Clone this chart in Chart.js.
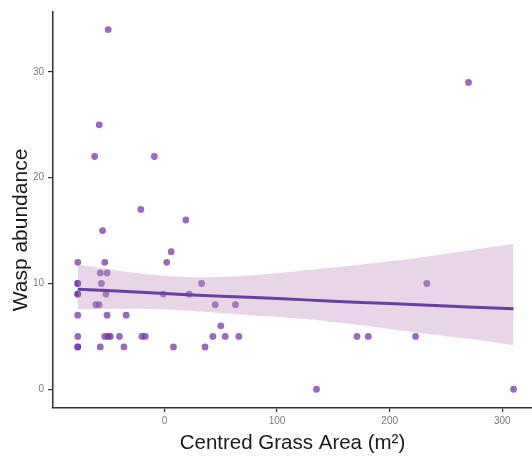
<!DOCTYPE html>
<html>
<head>
<meta charset="utf-8">
<script src="https://cdn.jsdelivr.net/npm/chart.js@4.4.1/dist/chart.umd.min.js"></script>
<style>
  html, body { margin: 0; padding: 0; background: #ffffff; }
  #wrap { width: 532px; height: 457px; }
</style>
</head>
<body>
<div id="wrap"><canvas id="c" width="532" height="457"></canvas></div>
<script>
// Observed data: centred grass area (m^2) vs wasp abundance
const grassArea = [-50, -58, -62, -9, -21, -55, 19, 270, 6, 2, -77, -53, -57, -51, -77, -77, -56, 33, 233,
  -77, -77, -52, -1, 22, -61, -58, 45, 63, -77, -51, -34, 50, -77, -53, -50, -48, -40, -20, -17, 43, 54, 66,
  171, 181, 223, -77, -77, -57, -36, 8, 36, 135, 310];
const waspAbundance = [34, 25, 22, 22, 17, 15, 16, 29, 13, 12, 12, 12, 11, 11, 10, 10, 10, 10, 10,
  9, 9, 9, 9, 9, 8, 8, 8, 8, 7, 7, 7, 6, 5, 5, 5, 5, 5, 5, 5, 5, 5, 5,
  5, 5, 5, 4, 4, 4, 4, 4, 4, 0, 0];

// Fitted trend and confidence band
const fitX = [-77, -25, 25, 75, 125, 175, 225, 275, 310];
const fitY = [9.45, 9.2, 8.9, 8.7, 8.45, 8.2, 8.0, 7.75, 7.6];
const upperY = [11.8, 11.0, 10.6, 10.75, 11.25, 11.8, 12.4, 13.2, 13.76];
const lowerY = [7.55, 7.6, 7.4, 7.0, 6.65, 6.05, 5.35, 4.7, 4.16];

// Axis ticks
const xTicks = [0, 100, 200, 300];
const yTicks = [0, 10, 20, 30];

const pair = (xs, ys) => xs.map((x, i) => ({ x: x, y: ys[i] }));
const FONT = '"Liberation Sans", Arial, Helvetica, sans-serif';
const Y_TITLE = 'Wasp abundance';

// Y-axis title, drawn as text slightly below the panel centre (as in the original)
const yTitlePlugin = {
  id: 'yTitle',
  afterDraw(chart) {
    const ctx = chart.ctx;
    ctx.save();
    ctx.translate(21.5, 230);
    ctx.rotate(-Math.PI / 2);
    ctx.font = '21px ' + FONT;
    ctx.fillStyle = '#1a1a1a';
    ctx.textAlign = 'center';
    ctx.textBaseline = 'middle';
    ctx.fillText(Y_TITLE, 0, 0);
    ctx.restore();
  }
};

new Chart(document.getElementById('c'), {
  type: 'scatter',
  data: {
    datasets: [
      {
        label: 'fit', data: pair(fitX, fitY), showLine: true, order: 0,
        borderColor: '#6b3fa0', borderWidth: 3, pointRadius: 0, fill: false, tension: 0.2
      },
      {
        label: 'upper', data: pair(fitX, upperY), showLine: true, order: 1,
        borderColor: 'rgba(0,0,0,0)', borderWidth: 0, pointRadius: 0, tension: 0.3,
        fill: '+1', backgroundColor: 'rgba(190,140,190,0.36)'
      },
      {
        label: 'lower', data: pair(fitX, lowerY), showLine: true, order: 1,
        borderColor: 'rgba(0,0,0,0)', borderWidth: 0, pointRadius: 0, tension: 0.3, fill: false
      },
      {
        label: 'points', data: pair(grassArea, waspAbundance), order: 3,
        pointRadius: 3.4, pointBackgroundColor: 'rgba(110,50,160,0.72)', pointBorderWidth: 0,
        pointBorderColor: 'rgba(0,0,0,0)'
      }
    ]
  },
  plugins: [yTitlePlugin],
  options: {
    responsive: false,
    animation: false,
    layout: { autoPadding: false, padding: { top: 12, right: 0, left: 0, bottom: 0 } },
    plugins: { legend: { display: false }, tooltip: { enabled: false } },
    scales: {
      x: {
        type: 'linear', min: -99, max: 326.4,
        afterBuildTicks: (axis) => { axis.ticks = xTicks.map(v => ({ value: v })); },
        afterFit: (scale) => { scale.height = 49; scale.paddingLeft = 0; scale.paddingRight = 0; },
        grid: { display: true, drawOnChartArea: false, drawTicks: true, tickLength: 4, color: '#333333', lineWidth: 1.2 },
        border: { display: true, color: '#333333', width: 1.5 },
        ticks: { color: '#7a7a7a', font: { size: 10, family: FONT }, padding: 3, maxRotation: 0 },
        title: { display: true, text: 'Centred Grass Area (m²)', color: '#1a1a1a',
                 font: { size: 20.5, family: FONT }, padding: { top: 0, bottom: 1 } }
      },
      y: {
        type: 'linear', min: -1.77, max: 35.66,
        afterBuildTicks: (axis) => { axis.ticks = yTicks.map(v => ({ value: v })); },
        afterFit: (scale) => { scale.width = 53; scale.paddingTop = 0; scale.paddingBottom = 0; },
        grid: { display: true, drawOnChartArea: false, drawTicks: true, tickLength: 5, color: '#333333', lineWidth: 1.2 },
        border: { display: true, color: '#333333', width: 1.5 },
        ticks: { color: '#7a7a7a', font: { size: 10, family: FONT }, padding: 4 },
        title: { display: false }
      }
    }
  }
});
</script>
</body>
</html>
